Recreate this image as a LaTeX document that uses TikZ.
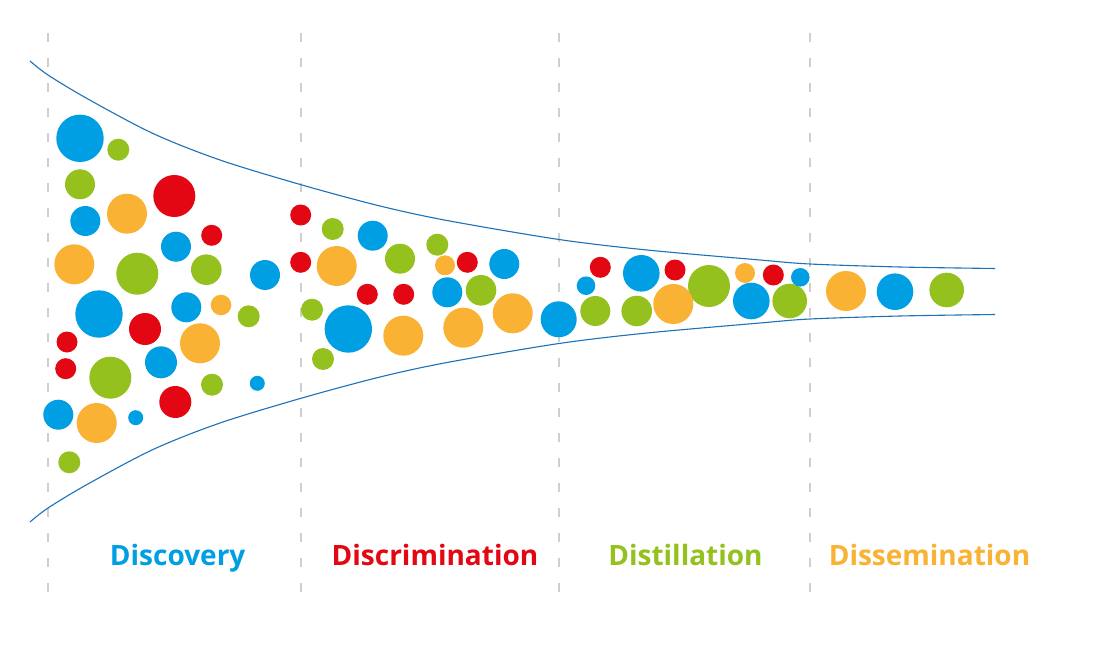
\documentclass[tikz,border=0pt]{standalone}
\usepackage{fontspec}
\setmainfont{Open Sans}
\definecolor{cB}{HTML}{009FE3}
\definecolor{cR}{HTML}{E30613}
\definecolor{cG}{HTML}{95C11F}
\definecolor{cO}{HTML}{F9B233}
\definecolor{funnelc}{HTML}{1D71B8}
\definecolor{guidec}{HTML}{CFCFCF}
\tikzset{
  guide/.style={draw=guidec, line width=1.3pt, dash pattern=on 9pt off 16pt},
  funnel/.style={draw=funnelc, line width=1.1pt},
  phase/.style={anchor=base, font=\fontsize{28}{34}\selectfont\bfseries, inner sep=0pt},
}
\newcommand{\bubble}[4]{\fill[#4] (#1,#2) circle[radius=#3pt];}
\begin{document}
\begin{tikzpicture}[x=1pt,y=-1pt]
\useasboundingbox (0,0) rectangle (1095,666);
\fill[white] (0,0) rectangle (1095,666);
% guides
\foreach \gx/\gn in {48/g1,301/g2,559/g3,810/g4}{
  \coordinate (\gn top) at (\gx,33);
  \coordinate (\gn bot) at (\gx,596);
  \draw[guide] (\gn top) -- (\gn bot);
}
% funnel
\draw[funnel] plot[smooth] coordinates {(30,61) (48,75) (87,98.5) (153,133.5) (220,160) (302,185) (380,206) (447,220.5) (559,239.5) (647,250) (760,260) (810,264) (900,267) (995,268.5)};
\draw[funnel] plot[smooth] coordinates {(30,522) (48,508) (87,484.5) (153,449.5) (220,423) (302,398) (380,377) (447,362.5) (559,343.5) (647,333) (760,323) (810,319) (900,316) (995,314.5)};
% Discovery
\bubble{80}{138.3}{23.7}{cB}
\bubble{118.3}{149.7}{11}{cG}
\bubble{80}{184.3}{15}{cG}
\bubble{174.3}{196}{21}{cR}
\bubble{85.3}{221}{15}{cB}
\bubble{127}{213.7}{20}{cO}
\bubble{211.7}{235.3}{10.5}{cR}
\bubble{176}{246.7}{15}{cB}
\bubble{74.3}{264.3}{20}{cO}
\bubble{137.3}{273.7}{21}{cG}
\bubble{206.3}{269.7}{15.3}{cG}
\bubble{265}{275}{15}{cB}
\bubble{99}{314}{23.7}{cB}
\bubble{186.3}{307.3}{15}{cB}
\bubble{221}{305}{10.3}{cO}
\bubble{248.7}{316.3}{11}{cG}
\bubble{145}{329}{16}{cR}
\bubble{200}{343.3}{20}{cO}
\bubble{67}{342}{10.5}{cR}
\bubble{65.7}{368.7}{10.5}{cR}
\bubble{110.3}{377.7}{21}{cG}
\bubble{161}{362.3}{16}{cB}
\bubble{212}{384.7}{11}{cG}
\bubble{257.3}{383.3}{7.5}{cB}
\bubble{175.3}{402}{16}{cR}
\bubble{58.3}{414.7}{15}{cB}
\bubble{96.7}{423}{20}{cO}
\bubble{135.7}{417.7}{7.5}{cB}
\bubble{69.3}{462.3}{11}{cG}
% Discrimination
\bubble{300.7}{215}{10.5}{cR}
\bubble{332.7}{229}{11}{cG}
\bubble{372.7}{235.7}{15}{cB}
\bubble{300.7}{262.3}{10.5}{cR}
\bubble{336.7}{266}{20}{cO}
\bubble{400}{258.7}{15}{cG}
\bubble{437.3}{244.7}{11}{cG}
\bubble{445}{265.3}{10}{cO}
\bubble{467.3}{262.3}{10.5}{cR}
\bubble{504.3}{264}{15}{cB}
\bubble{367.3}{294.3}{10.5}{cR}
\bubble{403.7}{294.3}{10.5}{cR}
\bubble{447.3}{292.3}{15}{cB}
\bubble{481}{290.3}{15.3}{cG}
\bubble{312}{309.7}{11}{cG}
\bubble{348.3}{329}{23.7}{cB}
\bubble{403.3}{335.7}{20}{cO}
\bubble{463.3}{327.7}{20}{cO}
\bubble{512.7}{313.3}{20}{cO}
\bubble{558.7}{319.3}{18}{cB}
\bubble{323}{359}{11}{cG}
% Distillation
\bubble{600.3}{267.3}{10.5}{cR}
\bubble{586}{285.7}{9.3}{cB}
\bubble{595.3}{311}{15}{cG}
\bubble{641.3}{273.3}{18.3}{cB}
\bubble{675}{270}{10.5}{cR}
\bubble{636.7}{311}{15.3}{cG}
\bubble{709}{286}{21}{cG}
\bubble{673.3}{304}{20}{cO}
\bubble{745}{273}{10}{cO}
\bubble{773.3}{275}{10.5}{cR}
\bubble{751.3}{301}{18.3}{cB}
\bubble{789.7}{301}{17.3}{cG}
\bubble{800.3}{277.3}{9.3}{cB}
% Dissemination
\bubble{846}{291}{20}{cO}
\bubble{895}{291.7}{18.3}{cB}
\bubble{946.7}{290}{17.3}{cG}
% labels
\node[phase, text=cB] (lab1) at (177.7,565) {Discovery};
\node[phase, text=cR] (lab2) at (435,565) {Discrimination};
\node[phase, text=cG] (lab3) at (685.5,565) {Distillation};
\node[phase, text=cO] (lab4) at (929.5,565) {Dissemination};
\end{tikzpicture}
\end{document}
